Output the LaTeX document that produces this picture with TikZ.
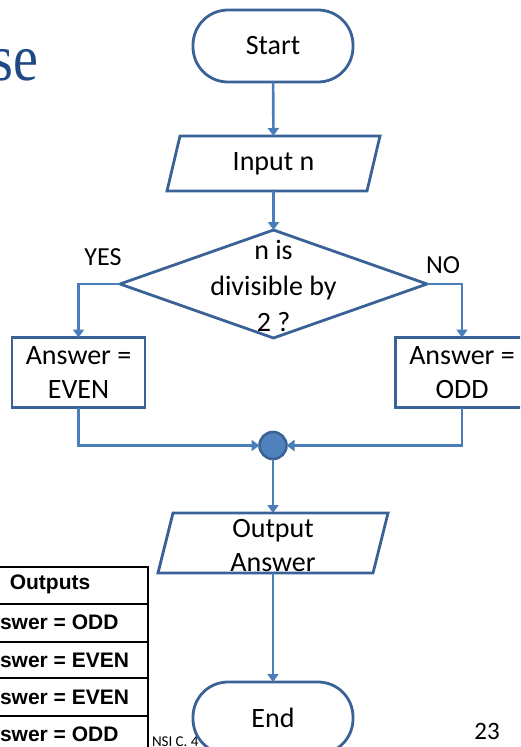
\documentclass[tikz,border=0pt]{standalone}
\usepackage{fontspec}
\setmainfont{Carlito}
\newfontfamily\tablefont{Liberation Sans}
\newfontfamily\titlefont{Liberation Serif}
\usetikzlibrary{arrows.meta,shapes.geometric}
\definecolor{shapeblue}{HTML}{3A6296}
\definecolor{linkblue}{HTML}{4A7EBB}
\definecolor{dotblue}{HTML}{4F81BD}
\definecolor{titleblue}{HTML}{1F4A85}
\begin{document}
\begin{tikzpicture}[x=1pt,y=-1pt,
  every node/.style={inner sep=0pt, outer sep=0pt},
  flowtext/.style={font=\fontsize{28}{34}\selectfont, align=center},
  outline/.style={draw=shapeblue, line width=2.8pt},
  terminal/.style={outline, fill=white, rounded corners=35pt, minimum width=160pt, minimum height=72pt, flowtext},
  procbox/.style={outline, fill=white, minimum width=133pt, minimum height=70pt, flowtext},
  iobox/.style={minimum height=55pt},
  decision/.style={outline, diamond, minimum width=307pt, minimum height=108pt},
  joint/.style={circle, draw=shapeblue, line width=2.6pt, fill=dotblue, minimum size=27pt},
  link/.style={draw=linkblue, line width=2.6pt, -{Triangle[width=11pt,length=8pt]}},
  branchlabel/.style={font=\fontsize{26}{30}\selectfont},
  tabletext/.style={font=\tablefont\bfseries\fontsize{21}{23}\selectfont},
  rule/.style={draw=black, line width=1.6pt},
  heavyrule/.style={draw=black, line width=2.6pt}
]
\useasboundingbox (0,0) rectangle (520,747);
\clip (0,0) rectangle (520,747);

% slide title fragment
\node[anchor=base east, text=titleblue, font=\titlefont\fontsize{66}{70}\selectfont] (title) at (38,80) {\scalebox{0.85}[1]{se}};

% truth table fragment
\draw[rule] (0,604) -- (148,604);
\draw[rule] (0,642) -- (148,642);
\draw[rule] (0,678) -- (148,678);
\draw[rule] (0,716) -- (148,716);
\draw[heavyrule] (0,567) -- (148,567) -- (148,747);
\node[tabletext] (thead) at (50,584) {Outputs};
\node[tabletext, anchor=west] (row1) at (0,622) {swer = ODD};
\node[tabletext, anchor=west] (row2) at (0,660) {swer = EVEN};
\node[tabletext, anchor=west] (row3) at (0,697) {swer = EVEN};
\node[tabletext, anchor=west] (row4) at (0,734) {swer = ODD};

% footer
\node[anchor=west, font=\fontsize{15}{17}\selectfont] (footer) at (152,742) {NSI C. 4};
\node[font=\fontsize{25}{28}\selectfont] (pagenum) at (487,731) {23};

% flowchart nodes
\node[terminal] (start) at (273,46) {Start};

\node[iobox, minimum width=200pt] (inp) at (273.5,163.5) {};
\draw[outline] ([xshift=6.5pt]inp.north west) -- ([xshift=6.5pt]inp.north east)
  -- ([xshift=-6.5pt]inp.south east) -- ([xshift=-6.5pt]inp.south west) -- cycle;
\node[flowtext] (inptext) at (inp) {Input n};

\node[decision] (dec) at (273.5,284) {};
\node[flowtext, font=\fontsize{28}{36}\selectfont] (dectext) at (273.5,286) {n is\\divisible by\\2 ?};

\node[branchlabel] (yes) at (103,257) {YES};
\node[branchlabel] (no) at (443,265) {NO};

\node[procbox] (even) at (78.5,372.5) {Answer =\\EVEN};
\node[procbox] (odd) at (462,372.5) {Answer =\\ODD};

\node[joint] (join) at (273,445.5) {};

\node[iobox, minimum width=215pt, minimum height=60pt] (outp) at (273,543) {};
\draw[outline] ([xshift=7.5pt]outp.north west) -- ([xshift=7.5pt]outp.north east)
  -- ([xshift=-7.5pt]outp.south east) -- ([xshift=-7.5pt]outp.south west) -- cycle;
\node[flowtext] (outptext) at (273,546) {Output\\Answer};

\node[terminal] (stop) at (273,718) {End};

% connectors
\draw[link] (start) -- (inp);
\draw[link] (inp) -- (dec);
\draw[link] (dec.west) -| (even);
\draw[link] (dec.east) -| (odd);
\draw[link] (even) |- (join);
\draw[link] (odd) |- (join);
\draw[link] (join) -- (outp);
\draw[link] (outp) -- (stop);
\end{tikzpicture}
\end{document}
